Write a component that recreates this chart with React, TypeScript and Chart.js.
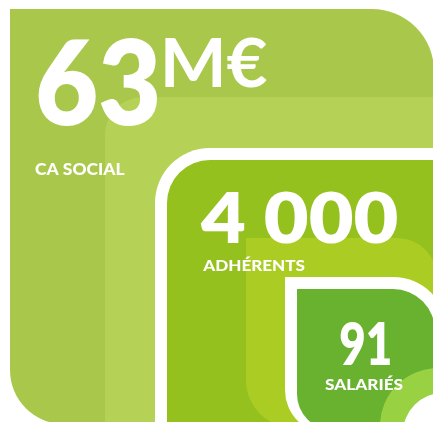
import React, { useEffect, useRef } from "react";
import { Chart, registerables } from "chart.js";

Chart.register(...registerables);

// ---- data ----
const categories = ["CA SOCIAL", "ADHÉRENTS", "SALARIÉS"];
const values = [63, 4000, 91];
const valueLabels = ["63", "4 000", "91"];
const units = ["M€", "", ""];

// ---- layout / style (not data) ----
const W = 433;
const H = 422;
const FONT = "Lato, 'Noto Sans', sans-serif";

type Panel = { x: number; y: number; r: number; b: number; radii: [number, number, number, number]; color: string };

const panels: Panel[] = [
  { x: 10, y: 9, r: 434, b: 424, radii: [0, 62, 0, 54], color: "#a9c84b" },
  { x: 105, y: 97, r: 440, b: 440, radii: [38, 0, 0, 0], color: "#b5d256" },
  { x: 155, y: 148, r: 460, b: 460, radii: [55, 0, 0, 0], color: "#ffffff" },
  { x: 167, y: 160, r: 460, b: 460, radii: [43, 0, 0, 0], color: "#95c11f" },
  { x: 246, y: 238, r: 437, b: 428, radii: [0, 40, 0, 48], color: "#abcd23" },
  { x: 285, y: 277, r: 447, b: 434, radii: [0, 54, 0, 44], color: "#ffffff" },
  { x: 297, y: 289, r: 435, b: 430, radii: [0, 42, 0, 36], color: "#68b22f" },
  { x: 380, y: 368, r: 470, b: 470, radii: [58, 0, 0, 0], color: "#98d243" },
  { x: 403, y: 393, r: 470, b: 470, radii: [40, 0, 0, 0], color: "#ffffff" },
];

// [left, baseline, capHeight, inkWidth, weight] for value, unit and category per metric
const valueLayout = [
  [38, 125, 85, 119, 800],
  [200, 243, 50, 197, 800],
  [340, 365, 42, 50, 800],
];
const unitLayout = [
  [165, 87, 48, 102, 700],
  null,
  null,
];
const labelLayout = [
  [35, 175, 12, 90, 900],
  [202, 271, 10.5, 103, 900],
  [325, 390, 10.5, 78, 900],
];

function roundedRect(ctx: CanvasRenderingContext2D, p: Panel) {
  const [tl, tr, br, bl] = p.radii;
  const { x, y, r, b } = p;
  ctx.beginPath();
  ctx.moveTo(x + tl, y);
  ctx.lineTo(r - tr, y);
  if (tr) ctx.arcTo(r, y, r, y + tr, tr);
  else ctx.lineTo(r, y);
  ctx.lineTo(r, b - br);
  if (br) ctx.arcTo(r, b, r - br, b, br);
  else ctx.lineTo(r, b);
  ctx.lineTo(x + bl, b);
  if (bl) ctx.arcTo(x, b, x, b - bl, bl);
  else ctx.lineTo(x, b);
  ctx.lineTo(x, y + tl);
  if (tl) ctx.arcTo(x, y, x + tl, y, tl);
  else ctx.lineTo(x, y);
  ctx.closePath();
  ctx.fillStyle = p.color;
  ctx.fill();
}

function fitText(ctx: CanvasRenderingContext2D, text: string, layout: number[]) {
  const [left, baseline, capH, width, weight] = layout;
  const size = capH / 0.72;
  ctx.font = `${weight} ${size}px ${FONT}`;
  ctx.textAlign = "left";
  ctx.textBaseline = "alphabetic";
  const m = ctx.measureText(text);
  const ink = m.actualBoundingBoxLeft + m.actualBoundingBoxRight;
  const sx = width / ink;
  ctx.save();
  ctx.translate(left, baseline);
  ctx.scale(sx, 1);
  ctx.fillStyle = "#ffffff";
  ctx.fillText(text, m.actualBoundingBoxLeft, 0);
  ctx.restore();
}

const infographic = {
  id: "infographic",
  afterDraw(chart: any) {
    const ctx: CanvasRenderingContext2D = chart.ctx;
    ctx.save();
    ctx.fillStyle = "#ffffff";
    ctx.fillRect(0, 0, chart.width, chart.height);
    ctx.beginPath();
    ctx.rect(0, 0, chart.width, chart.height);
    ctx.clip();
    panels.forEach((p) => roundedRect(ctx, p));
    const labels: string[] = chart.data.labels;
    labels.forEach((label, i) => {
      fitText(ctx, valueLabels[i], valueLayout[i]);
      const u = unitLayout[i];
      if (units[i] && u) fitText(ctx, units[i], u);
      fitText(ctx, label, labelLayout[i]);
    });
    ctx.restore();
  },
};

export default function App() {
  const ref = useRef<HTMLCanvasElement>(null);
  useEffect(() => {
    let chart: Chart | null = null;
    let cancelled = false;
    const make = () => {
      if (cancelled || !ref.current) return;
      chart = new Chart(ref.current, {
        type: "bar",
        data: {
          labels: categories,
          datasets: [{ data: values, hidden: true }],
        },
        options: {
          responsive: false,
          animation: false,
          devicePixelRatio: 1,
          layout: { padding: 0 },
          plugins: { legend: { display: false }, tooltip: { enabled: false } },
          scales: { x: { display: false }, y: { display: false } },
        },
        plugins: [infographic],
      });
    };
    const f = (document as any).fonts;
    if (f && f.load) {
      Promise.all([f.load(`900 40px Lato`), f.load(`800 40px Lato`), f.load(`700 40px Lato`)]).then(make, make);
    } else make();
    return () => {
      cancelled = true;
      if (chart) chart.destroy();
    };
  }, []);
  return (
    <div style={{ position: "fixed", left: 0, top: 0, width: W, height: H }}>
      <canvas ref={ref} width={W} height={H} style={{ display: "block" }} />
    </div>
  );
}
